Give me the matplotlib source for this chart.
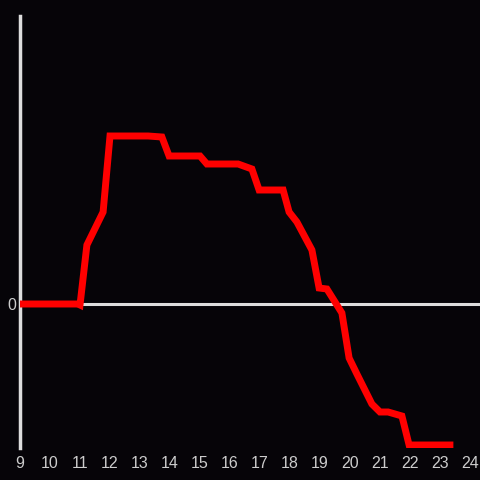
import matplotlib
matplotlib.use("Agg")
import matplotlib.pyplot as plt

# hour of day and value (arbitrary units, 0 = baseline)
hours = [9.0, 10.93, 11.0, 11.23, 11.77, 12.0, 13.27, 13.73, 13.97, 15.0, 15.23,
         16.27, 16.73, 16.97, 17.77, 17.97, 18.23, 18.73, 18.97, 19.23, 19.73,
         19.97, 20.23, 20.73, 21.0, 21.27, 21.73, 21.97, 23.33]
values = [0, 0, -1, 59, 92, 168, 168, 167, 148, 148, 140,
          140, 135, 114, 114, 92, 82, 54, 16, 15, -9,
          -54, -70, -100, -108, -108, -112, -141, -141]

x_ticks = list(range(9, 25))

bg = "#060408"
axis_color = "#dddddd"

fig = plt.figure(figsize=(4.8, 4.8), dpi=100, facecolor=bg)
ax = fig.add_axes([20 / 480, 32 / 480, 460 / 480, 432 / 480], facecolor=bg)

ax.plot(hours, values, color="#ff0000", lw=5, solid_joinstyle="miter", zorder=3)
ax.axhline(0, color=axis_color, lw=2.2, zorder=2)

ax.set_xlim(9, 24.333)
ax.set_ylim(-144, 288)

for side in ["top", "right", "bottom"]:
    ax.spines[side].set_visible(False)
ax.spines["left"].set_color(axis_color)
ax.spines["left"].set_linewidth(2.5)

ax.set_xticks(x_ticks)
ax.set_yticks([0])
ax.tick_params(length=0, colors="#cccccc", labelsize=11.5)
ax.tick_params(axis="x", pad=6)
ax.tick_params(axis="y", pad=3)
for lbl in ax.get_xticklabels() + ax.get_yticklabels():
    lbl.set_fontfamily("Liberation Sans")

fig.savefig("out.png", dpi=100, facecolor=bg)
